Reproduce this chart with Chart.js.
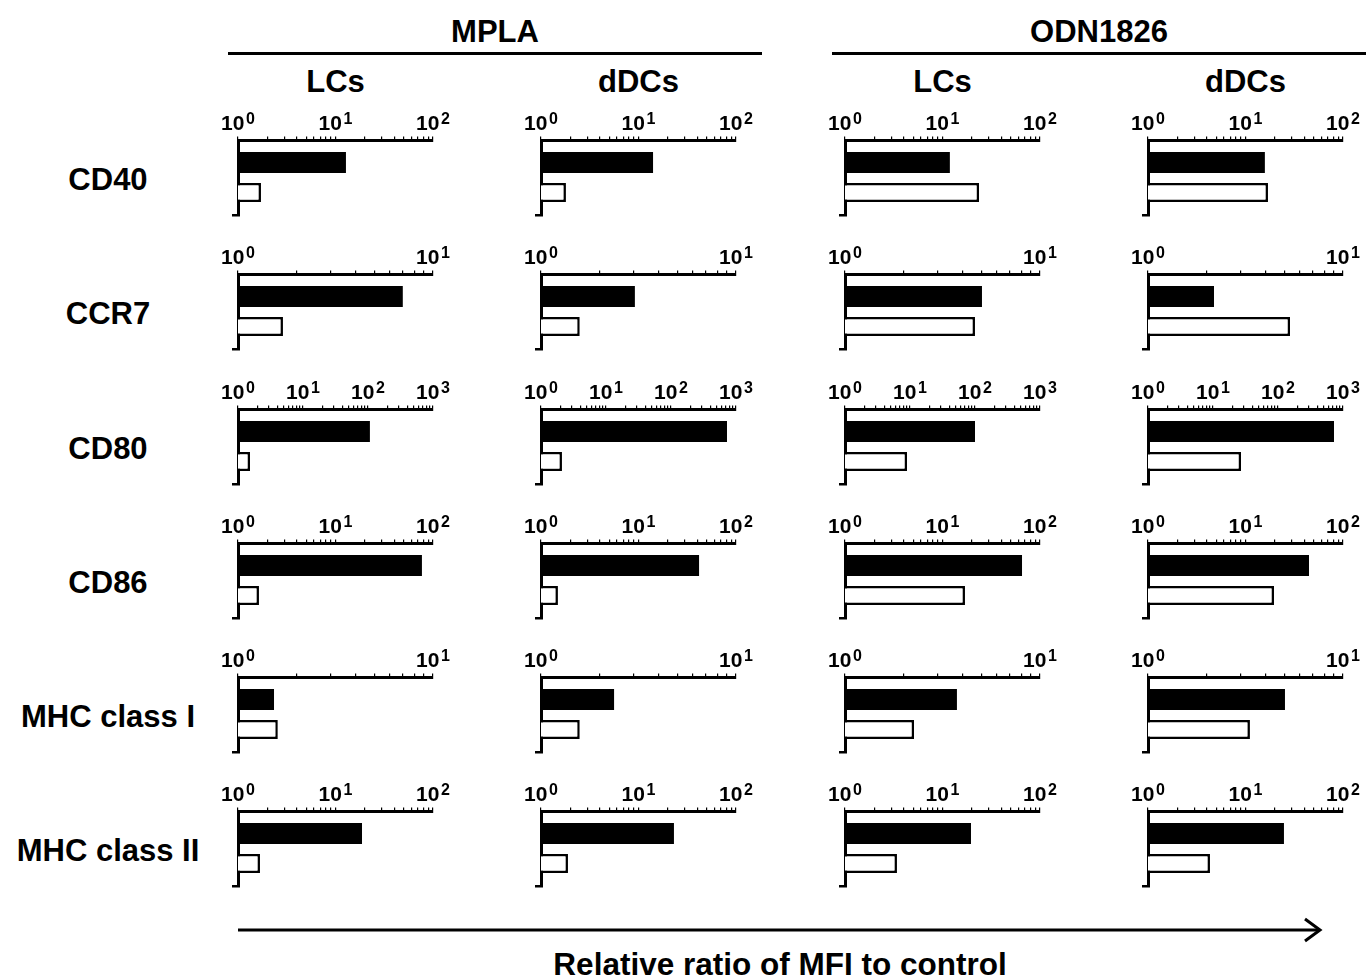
<!DOCTYPE html>
<html><head><meta charset="utf-8">
<script src="https://cdn.jsdelivr.net/npm/chart.js@4.4.1/dist/chart.umd.min.js"></script>
<style>
html,body{margin:0;padding:0;background:#fff;}
#wrap{position:relative;width:1366px;height:979px;overflow:hidden;background:#fff;}
#ann{position:absolute;left:0;top:0;}
canvas{position:absolute;}
</style></head><body>
<div id="wrap"><svg id="ann" width="1366" height="979" xmlns="http://www.w3.org/2000/svg"></svg></div>
<script>
// ---------- data ----------
const treatments = ['MPLA', 'ODN1826'];
const cellTypes = ['LCs', 'dDCs', 'LCs', 'dDCs'];
const markers = ['CD40', 'CCR7', 'CD80', 'CD86', 'MHC class I', 'MHC class II'];
const tickExponents = [[0,1,2],[0,1],[0,1,2,3],[0,1,2],[0,1],[0,1,2]];
// columns: MPLA-LCs, MPLA-dDCs, ODN1826-LCs, ODN1826-dDCs
const filledBars = [
  [12.8, 14.1, 11.9, 15.8],
  [7.0, 3.03, 5.04, 2.18],
  [107, 727, 100, 727],
  [77, 41.8, 65.4, 44.8],
  [1.53, 2.37, 3.75, 5.04],
  [18.7, 23.1, 19.6, 24.8]
];
const openBars = [
  [1.72, 1.80, 23.7, 17.0],
  [1.70, 1.58, 4.64, 5.35],
  [1.53, 2.10, 9.0, 27.0],
  [1.64, 1.49, 17.0, 19.6],
  [1.60, 1.58, 2.26, 3.33],
  [1.68, 1.89, 3.41, 4.32]
];
const axisTitle = 'Relative ratio of MFI to control';

// ---------- layout ----------
const FONT = '"Liberation Sans", Arial, Helvetica, sans-serif';
const colX = [238, 541, 845, 1148];
const rowY = [140, 274, 409, 543, 677, 811];
const PW = 195, PH = 75;
const PL = 25, PR = 25, PT = 30, PB = 5, YW = 8, XH = 4;

const wrap = document.getElementById('wrap');
const svg = document.getElementById('ann');
const NS = 'http://www.w3.org/2000/svg';
function svgText(str, x, y, size, anchor) {
  const t = document.createElementNS(NS, 'text');
  t.setAttribute('x', x); t.setAttribute('y', y);
  t.setAttribute('font-family', FONT); t.setAttribute('font-weight', 'bold');
  t.setAttribute('font-size', size); t.setAttribute('text-anchor', anchor || 'middle');
  t.setAttribute('fill', '#000');
  t.textContent = str; svg.appendChild(t);
}
function svgLine(x1, y1, x2, y2, w) {
  const l = document.createElementNS(NS, 'line');
  l.setAttribute('x1', x1); l.setAttribute('y1', y1); l.setAttribute('x2', x2); l.setAttribute('y2', y2);
  l.setAttribute('stroke', '#000'); l.setAttribute('stroke-width', w);
  svg.appendChild(l);
}
// group headers
svgText(treatments[0], 495, 42, 31); svgLine(228, 53.5, 762, 53.5, 3);
svgText(treatments[1], 1099, 42, 31); svgLine(832, 53.5, 1366, 53.5, 3);
cellTypes.forEach((c, i) => svgText(c, colX[i] + PW / 2, 92, 31));
markers.forEach((m, r) => svgText(m, 108, rowY[r] + 50, 31));
// arrow + title
svgLine(238, 930, 1318, 930, 3);
const pl = document.createElementNS(NS, 'polyline');
pl.setAttribute('points', '1305,919 1320,930 1305,941');
pl.setAttribute('fill', 'none'); pl.setAttribute('stroke', '#000'); pl.setAttribute('stroke-width', 3);
svg.appendChild(pl);
svgText(axisTitle, 780, 975, 31.5);

// ---------- charts ----------
const powLabels = {
  id: 'powLabels',
  afterDraw(chart, args, opts) {
    const {ctx, chartArea} = chart;
    const xs = chart.scales.x;
    ctx.save();
    ctx.fillStyle = '#000';
    ctx.textBaseline = 'alphabetic';
    ctx.textAlign = 'left';
    for (const e of opts.exps) {
      const px = xs.getPixelForValue(Math.pow(10, e));
      ctx.font = 'bold 21px ' + FONT;
      const wb = ctx.measureText('10').width;
      ctx.font = 'bold 16px ' + FONT;
      const we = ctx.measureText(String(e)).width;
      const left = px - (wb + 1.5 + we) / 2;
      ctx.font = 'bold 21px ' + FONT;
      ctx.fillText('10', left, chartArea.top - 10);
      ctx.font = 'bold 16px ' + FONT;
      ctx.fillText(String(e), left + wb + 1.5, chartArea.top - 16.5);
    }
    ctx.restore();
  }
};

function makeChart(r, c) {
  const cv = document.createElement('canvas');
  cv.width = PL + YW + PW + PR;
  cv.height = PT + XH + PH + PB;
  cv.style.left = (colX[c] - PL - YW) + 'px';
  cv.style.top = (rowY[r] - PT - XH) + 'px';
  wrap.appendChild(cv);
  const exps = tickExponents[r];
  const maxExp = exps[exps.length - 1];
  const tickVals = [];
  for (let e = 0; e < maxExp; e++) for (let m = 1; m < 10; m++) tickVals.push(m * Math.pow(10, e));
  tickVals.push(Math.pow(10, maxExp));
  new Chart(cv, {
    type: 'bar',
    data: {
      labels: [markers[r]],
      datasets: [
        {label: 'filled', data: [filledBars[r][c]], backgroundColor: '#000', borderWidth: 0,
         categoryPercentage: 0.8, barPercentage: 0.7},
        {label: 'open', data: [openBars[r][c]], backgroundColor: '#fff', borderColor: '#000', borderWidth: 2.5,
         categoryPercentage: 0.8, barPercentage: 0.64}
      ]
    },
    options: {
      indexAxis: 'y', responsive: false, animation: false, events: [],
      layout: {padding: {left: PL, right: PR, top: PT, bottom: PB}},
      plugins: {legend: {display: false}, tooltip: {enabled: false}, powLabels: {exps}},
      scales: {
        x: {
          type: 'logarithmic', position: 'top', min: 1, max: Math.pow(10, maxExp), z: 1,
          afterBuildTicks: s => { s.ticks = tickVals.map(v => ({value: v})); },
          afterFit: s => { s.height = XH; },
          ticks: {display: false},
          grid: {drawOnChartArea: false, drawTicks: true, tickLength: 3.5, color: '#000', lineWidth: 1.2},
          border: {display: true, color: '#000', width: 3}
        },
        y: {
          type: 'category', position: 'left', z: 1,
          afterFit: s => { s.width = YW; },
          ticks: {display: false},
          grid: {drawOnChartArea: false, drawTicks: true, tickLength: 6, lineWidth: 2.5,
                 color: ctx => (ctx.index === 0 ? 'rgba(0,0,0,0)' : '#000')},
          border: {display: true, color: '#000', width: 3}
        }
      }
    },
    plugins: [powLabels]
  });
}
for (let r = 0; r < markers.length; r++) for (let c = 0; c < cellTypes.length; c++) makeChart(r, c);
</script>
</body></html>
